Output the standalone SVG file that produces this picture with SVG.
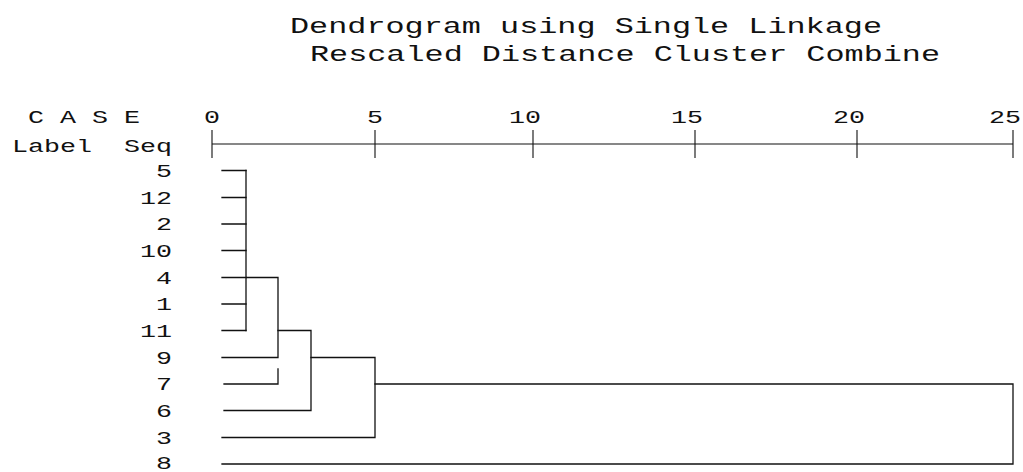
<svg xmlns="http://www.w3.org/2000/svg" width="1023" height="472" viewBox="0 0 1023 472">
<style>
text{font-family:"Liberation Mono","DejaVu Sans Mono",monospace;fill:#111;}
.t{font-size:22px;}
.l{font-size:17.5px;}
.ln{stroke:#111;stroke-width:1.3;fill:none;stroke-linecap:square;}
.ax{stroke:#111;stroke-width:1.1;fill:none;}
</style>
<rect width="1023" height="472" fill="#fff"/>
<g id="title">
<text class="t" x="290" y="33" textLength="592" lengthAdjust="spacingAndGlyphs">Dendrogram using Single Linkage</text>
<text class="t" x="310" y="61" textLength="630" lengthAdjust="spacingAndGlyphs">Rescaled Distance Cluster Combine</text>
</g>
<g id="header">
<text class="l" x="28" y="123" textLength="112" lengthAdjust="spacingAndGlyphs">C A S E</text>
<text class="l" x="12" y="152" textLength="80" lengthAdjust="spacingAndGlyphs">Label</text>
<text class="l" x="124" y="152" textLength="48" lengthAdjust="spacingAndGlyphs">Seq</text>
</g>
<g id="axis">
<line class="ax" x1="212" y1="144" x2="1013" y2="144"/>
<path class="ax" d="M212 130V158M375 130V158M533 130V158M695 130V158M857 130V158M1013 130V158"/>
<text class="l" x="204" y="123" textLength="16" lengthAdjust="spacingAndGlyphs">0</text>
<text class="l" x="367" y="123" textLength="16" lengthAdjust="spacingAndGlyphs">5</text>
<text class="l" x="509" y="123" textLength="32" lengthAdjust="spacingAndGlyphs">10</text>
<text class="l" x="671" y="123" textLength="32" lengthAdjust="spacingAndGlyphs">15</text>
<text class="l" x="833" y="123" textLength="32" lengthAdjust="spacingAndGlyphs">20</text>
<text class="l" x="989" y="123" textLength="32" lengthAdjust="spacingAndGlyphs">25</text>
</g>
<g id="leaf-5"><text class="l" x="156" y="176.5" textLength="16" lengthAdjust="spacingAndGlyphs">5</text></g>
<g id="leaf-12"><text class="l" x="140" y="203.5" textLength="32" lengthAdjust="spacingAndGlyphs">12</text></g>
<g id="leaf-2"><text class="l" x="156" y="230" textLength="16" lengthAdjust="spacingAndGlyphs">2</text></g>
<g id="leaf-10"><text class="l" x="140" y="256.5" textLength="32" lengthAdjust="spacingAndGlyphs">10</text></g>
<g id="leaf-4"><text class="l" x="156" y="283.5" textLength="16" lengthAdjust="spacingAndGlyphs">4</text></g>
<g id="leaf-1"><text class="l" x="156" y="310" textLength="16" lengthAdjust="spacingAndGlyphs">1</text></g>
<g id="leaf-11"><text class="l" x="140" y="336.5" textLength="32" lengthAdjust="spacingAndGlyphs">11</text></g>
<g id="leaf-9"><text class="l" x="156" y="363.5" textLength="16" lengthAdjust="spacingAndGlyphs">9</text></g>
<g id="leaf-7"><text class="l" x="156" y="390" textLength="16" lengthAdjust="spacingAndGlyphs">7</text></g>
<g id="leaf-6"><text class="l" x="156" y="416.5" textLength="16" lengthAdjust="spacingAndGlyphs">6</text></g>
<g id="leaf-3"><text class="l" x="156" y="443.5" textLength="16" lengthAdjust="spacingAndGlyphs">3</text></g>
<g id="leaf-8"><text class="l" x="156" y="468.5" textLength="16" lengthAdjust="spacingAndGlyphs">8</text></g>
<g id="connectors">
<path class="ln" d="M222 170.5H246M222 197.5H246M222 224H246M222 250.5H246M222 277.5H246M222 304H246M222 330.5H246"/>
<path class="ln" d="M246 170.5V330.5M246 277.5H278M278 277.5V357.5M222 357.5H278"/>
<path class="ln" d="M224 384H278V369"/>
<path class="ln" d="M278 330.5H311M311 330.5V410.5M224 410.5H311"/>
<path class="ln" d="M311 357.5H375M375 357.5V437.5M222 437.5H375"/>
<path class="ln" d="M375 384H1013M1013 384V464M222 464H1013"/>
</g>
</svg>
